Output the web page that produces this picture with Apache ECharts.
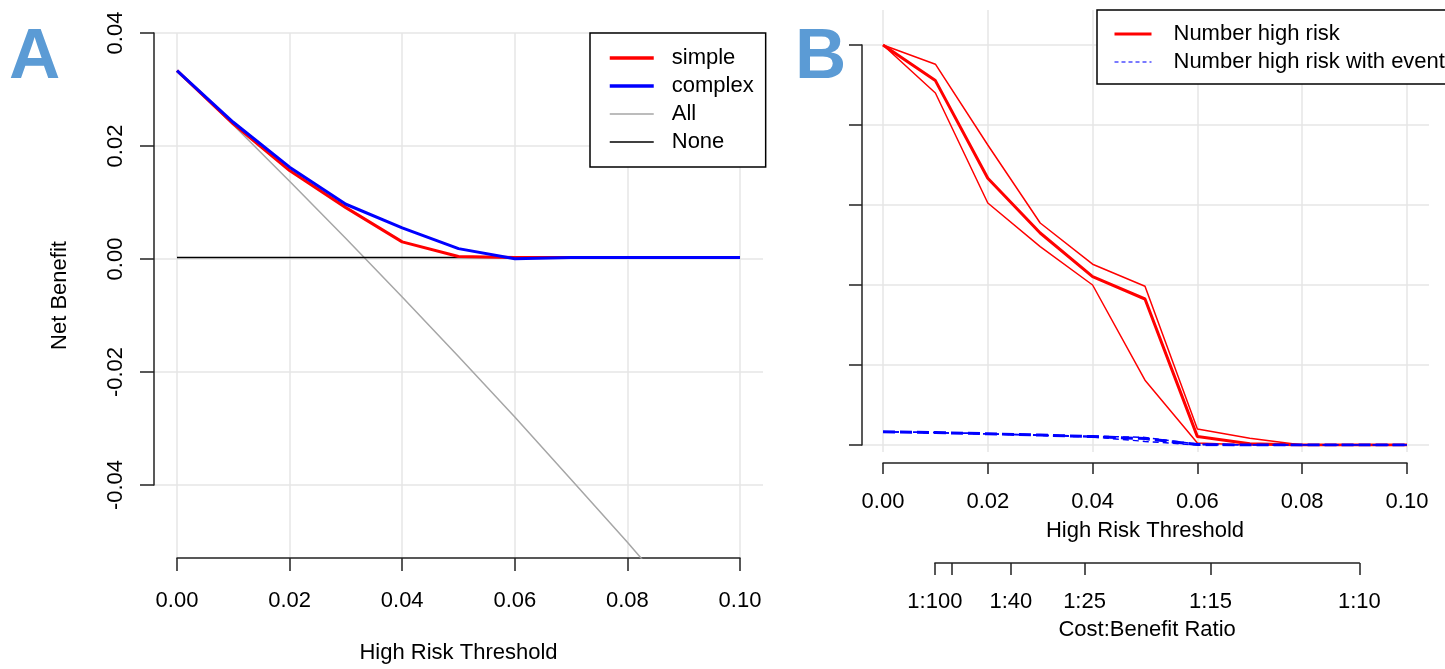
<!DOCTYPE html>
<html><head><meta charset="utf-8">
<script src="https://cdn.jsdelivr.net/npm/echarts@6/dist/echarts.min.js"></script>
<style>html,body{margin:0;padding:0;background:#fff}#c{width:1445px;height:669px}</style>
</head><body><div id="c"></div>
<script>
// ---------- data ----------
const thresholds = [0, 0.01, 0.02, 0.03, 0.04, 0.05, 0.06, 0.07, 0.08, 0.09, 0.10];
// Panel A: net benefit
const simpleNB  = [0.0333, 0.0238, 0.0155, 0.0089, 0.0028, 0.0002, 0.0000, 0, 0, 0, 0];
const complexNB = [0.0333, 0.0241, 0.0161, 0.0095, 0.0053, 0.0016, -0.0002, 0, 0, 0, 0];
const allNB     = [0.0333, 0.0236, 0.0136, 0.0034, -0.0070, -0.0176, -0.0284, -0.0395, -0.0507, -0.0623, -0.0741];
const noneNB    = [0, 0, 0, 0, 0, 0, 0, 0, 0, 0, 0];
// Panel B: number high risk (per 1000)
const nHigh     = [1000, 911, 667, 530, 421, 365, 21, 3, 0, 0, 0];
const nHighUp   = [1000, 952, 750, 555, 452, 397, 40, 17, 0, 0, 0];
const nHighLow  = [1000, 880, 605, 496, 400, 162, 5, 0, 0, 0, 0];
const nEvent    = [33, 31, 28, 25, 21, 16, 1, 0, 0, 0, 0];
const nEventUp  = [33, 31, 28, 25, 22, 19, 2, 0, 0, 0, 0];
const nEventLow = [33, 31, 28, 24, 20, 9, 0, 0, 0, 0, 0];
// cost:benefit ratio axis
const cbRatios = [100, 75, 40, 25, 15, 10];
const cbLabels = ['1:100', '', '1:40', '1:25', '1:15', '1:10'];
const legendA = ['simple', 'complex', 'All', 'None'];
const legendB = ['Number high risk', 'Number high risk with event'];

// ---------- chart ----------
const FONT = "'Liberation Sans', Arial, sans-serif";
const AX = '#222';
const GRIDC = '#e6e6e6';
const pairs = ys => thresholds.map((x, i) => [x, ys[i]]);
const cbVals = cbRatios.map(n => 1 / (1 + n));
const fmt2 = v => Number(v).toFixed(2);

const bLeft = 883, bWidth = 524;
const cbMin = cbVals[0], cbMax = cbVals[cbVals.length - 1];
const cbLeft = bLeft + bWidth * cbMin / 0.1;
const cbWidth = bWidth * (cbMax - cbMin) / 0.1;

const txt = {fontFamily: FONT, fontSize: 22, color: '#000'};
const axLine = {show: true, onZero: false, lineStyle: {color: AX, width: 1.5}};
const hiddenX = (g) => ({type: 'value', gridIndex: g, show: false, min: 0, max: 1});
const hiddenY = hiddenX;
const noSym = {opacity: 0};

const option = {
  animation: false,
  backgroundColor: '#fff',
  textStyle: {fontFamily: FONT},
  grid: [
    {left: 177, top: 33, width: 563, height: 527},          // 0 A data + x axis
    {left: 154, top: 33, width: 609, height: 452},          // 1 A y axis
    {left: bLeft, top: 45, width: bWidth, height: 400},     // 2 B data
    {left: bLeft, top: 10, width: bWidth, height: 442},     // 3 B x axis
    {left: 862, top: 45, width: 567, height: 400},          // 4 B y axis
    {left: cbLeft, top: 520, width: cbWidth, height: 43}    // 5 cost:benefit axis
  ],
  xAxis: [
    {type: 'value', gridIndex: 0, min: 0, max: 0.1, interval: 0.02,
     axisLine: axLine, axisTick: {show: true, length: 13, inside: false, lineStyle: {color: AX, width: 1.5}},
     axisLabel: Object.assign({margin: 32, formatter: fmt2, showMinLabel: true, showMaxLabel: true}, txt),
     splitLine: {show: true, lineStyle: {color: GRIDC, width: 1.5}},
     name: 'High Risk Threshold', nameLocation: 'middle', nameGap: 84, nameTextStyle: txt},
    hiddenX(1),
    {type: 'value', gridIndex: 2, show: false, min: 0, max: 0.1},
    {type: 'value', gridIndex: 3, min: 0, max: 0.1, interval: 0.02, offset: 11,
     axisLine: axLine, axisTick: {show: true, length: 11, inside: false, lineStyle: {color: AX, width: 1.5}},
     axisLabel: Object.assign({margin: 28, formatter: fmt2, showMinLabel: true, showMaxLabel: true}, txt),
     splitLine: {show: true, lineStyle: {color: GRIDC, width: 1.5}},
     name: 'High Risk Threshold', nameLocation: 'middle', nameGap: 57, nameTextStyle: txt},
    hiddenX(4),
    {type: 'value', gridIndex: 5, min: cbMin, max: cbMax,
     axisLine: axLine,
     axisTick: {show: true, length: 12, inside: false, customValues: cbVals, lineStyle: {color: AX, width: 1.5}},
     axisLabel: Object.assign({margin: 28, customValues: cbVals,
       formatter: v => { const i = cbVals.findIndex(c => Math.abs(c - v) < 1e-9); return i >= 0 ? cbLabels[i] : ''; }}, txt),
     splitLine: {show: false},
     name: 'Cost:Benefit Ratio', nameLocation: 'middle', nameGap: 56, nameTextStyle: txt}
  ],
  yAxis: [
    {type: 'value', gridIndex: 0, min: -0.0535, max: 0.04,
     axisLine: {show: false}, axisTick: {show: false}, axisLabel: {show: false}, splitLine: {show: false},
     name: 'Net Benefit', nameLocation: 'middle', nameGap: 106, nameTextStyle: txt},
    {type: 'value', gridIndex: 1, min: -0.04, max: 0.04, interval: 0.02,
     axisLine: axLine, axisTick: {show: true, length: 14, inside: false, lineStyle: {color: AX, width: 1.5}},
     axisLabel: Object.assign({margin: 27, rotate: 90, formatter: fmt2, showMinLabel: true, showMaxLabel: true}, txt),
     splitLine: {show: true, lineStyle: {color: GRIDC, width: 1.5}}},
    {type: 'value', gridIndex: 2, show: false, min: 0, max: 1000},
    hiddenY(3),
    {type: 'value', gridIndex: 4, min: 0, max: 1000, interval: 200,
     axisLine: axLine, axisTick: {show: true, length: 13, inside: false, lineStyle: {color: AX, width: 1.5}},
     axisLabel: {show: false},
     splitLine: {show: true, lineStyle: {color: GRIDC, width: 1.5}}},
    hiddenY(5)
  ],
  legend: [
    {orient: 'vertical', left: 590, top: 33, padding: [14, 12, 14, 18],
     itemWidth: 44, itemHeight: 14, itemGap: 6, selectedMode: false,
     borderColor: '#000', borderWidth: 1.5, backgroundColor: '#fff',
     textStyle: Object.assign({padding: [0, 0, 0, 13]}, txt),
     data: [
       {name: legendA[0], lineStyle: {width: 3.5}, itemStyle: noSym},
       {name: legendA[1], lineStyle: {width: 3.5}, itemStyle: noSym},
       {name: legendA[2], lineStyle: {width: 1.5}, itemStyle: noSym},
       {name: legendA[3], lineStyle: {width: 1.5}, itemStyle: noSym}
     ]},
    {orient: 'vertical', left: 1097, top: 10, padding: [13, 14, 11, 16],
     itemWidth: 37, itemHeight: 14, itemGap: 6, selectedMode: false,
     borderColor: '#000', borderWidth: 1.5, backgroundColor: '#fff',
     textStyle: Object.assign({padding: [0, 0, 0, 17]}, txt),
     data: [
       {name: legendB[0], lineStyle: {width: 3}, itemStyle: noSym},
       {name: legendB[1], lineStyle: {width: 1.5, type: [4, 3], color: '#4d4dff'}, itemStyle: noSym}
     ]}
  ],
  graphic: [
    {type: 'text', left: 9, top: 23, silent: true,
     style: {text: 'A', fontFamily: FONT, fontWeight: 'bold', fontSize: 71, fill: '#5B9BD5'}},
    {type: 'text', left: 795, top: 23, silent: true,
     style: {text: 'B', fontFamily: FONT, fontWeight: 'bold', fontSize: 71, fill: '#5B9BD5'}}
  ],
  series: [
    {name: legendA[2], type: 'line', xAxisIndex: 0, yAxisIndex: 0, data: pairs(allNB), symbol: 'none',
     lineStyle: {color: '#a6a6a6', width: 1.5}, itemStyle: {color: '#a6a6a6'}, clip: true, silent: true},
    {name: legendA[3], type: 'line', xAxisIndex: 0, yAxisIndex: 0, data: pairs(noneNB), symbol: 'none',
     lineStyle: {color: '#000', width: 1.5}, itemStyle: {color: '#000'}, silent: true},
    {name: legendA[0], type: 'line', xAxisIndex: 0, yAxisIndex: 0, data: pairs(simpleNB), symbol: 'none',
     lineStyle: {color: '#ff0000', width: 3}, itemStyle: {color: '#ff0000'}, silent: true},
    {name: legendA[1], type: 'line', xAxisIndex: 0, yAxisIndex: 0, data: pairs(complexNB), symbol: 'none',
     lineStyle: {color: '#0000ff', width: 3}, itemStyle: {color: '#0000ff'}, silent: true},

    {name: 'high risk upper', type: 'line', xAxisIndex: 2, yAxisIndex: 2, data: pairs(nHighUp), symbol: 'none',
     lineStyle: {color: '#ff0000', width: 1.5}, itemStyle: {color: '#ff0000'}, silent: true},
    {name: 'high risk lower', type: 'line', xAxisIndex: 2, yAxisIndex: 2, data: pairs(nHighLow), symbol: 'none',
     lineStyle: {color: '#ff0000', width: 1.5}, itemStyle: {color: '#ff0000'}, silent: true},
    {name: legendB[0], type: 'line', xAxisIndex: 2, yAxisIndex: 2, data: pairs(nHigh), symbol: 'none',
     lineStyle: {color: '#ff0000', width: 3}, itemStyle: {color: '#ff0000'}, silent: true},
    {name: 'event upper', type: 'line', xAxisIndex: 2, yAxisIndex: 2, data: pairs(nEventUp), symbol: 'none',
     lineStyle: {color: '#0000ff', width: 1.5, type: [6, 4]}, itemStyle: {color: '#0000ff'}, silent: true},
    {name: 'event lower', type: 'line', xAxisIndex: 2, yAxisIndex: 2, data: pairs(nEventLow), symbol: 'none',
     lineStyle: {color: '#0000ff', width: 1.5, type: [6, 4]}, itemStyle: {color: '#0000ff'}, silent: true},
    {name: legendB[1], type: 'line', xAxisIndex: 2, yAxisIndex: 2, data: pairs(nEvent), symbol: 'none',
     lineStyle: {color: '#0000ff', width: 3, type: [12, 5]}, itemStyle: {color: '#0000ff'}, silent: true}
  ]
};
const chart = echarts.init(document.getElementById('c'), null, {renderer: 'canvas'});
chart.setOption(option);
</script>
</body></html>
